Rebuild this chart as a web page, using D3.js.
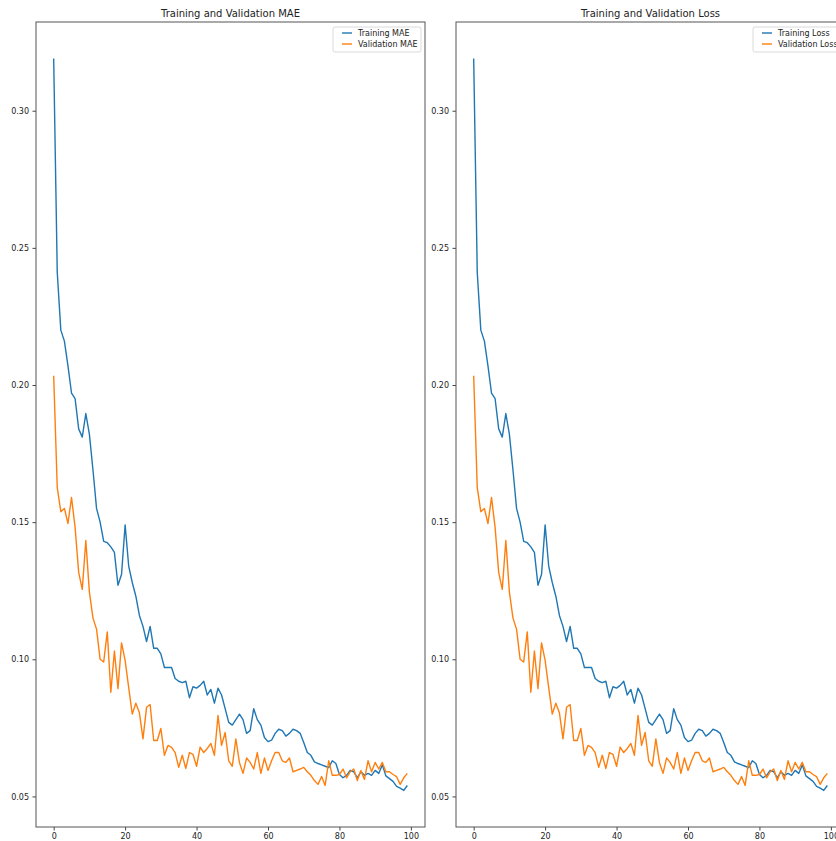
<!DOCTYPE html>
<html>
<head>
<meta charset="utf-8">
<script src="https://cdn.jsdelivr.net/npm/d3@7"></script>
<style>
  body { margin: 0; background: white; }
  svg { display: block; font-family: "DejaVu Sans", sans-serif; }
</style>
</head>
<body>
<svg id="fig" width="836" height="841"></svg>
<script>
// epoch-by-epoch values
var epochs = d3.range(0, 100);

var trainingMae = [
  0.319, 0.241, 0.220, 0.216, 0.207, 0.197, 0.195, 0.184, 0.181, 0.1896,
  0.182, 0.169, 0.155, 0.150, 0.143, 0.1425, 0.141, 0.139, 0.127, 0.131,
  0.149, 0.134, 0.128, 0.123, 0.116, 0.112, 0.1065, 0.112, 0.104, 0.104,
  0.102, 0.097, 0.097, 0.097, 0.093, 0.092, 0.0915, 0.092, 0.086, 0.090,
  0.0895, 0.0905, 0.092, 0.087, 0.089, 0.084, 0.0895, 0.087, 0.082, 0.077,
  0.076, 0.078, 0.080, 0.078, 0.073, 0.074, 0.082, 0.078, 0.076, 0.0715,
  0.070, 0.0705, 0.073, 0.0745, 0.074, 0.072, 0.073, 0.0745, 0.074, 0.073,
  0.0697, 0.066, 0.065, 0.0626, 0.062, 0.0615, 0.061, 0.0605, 0.063, 0.062,
  0.058, 0.0568, 0.0577, 0.0595, 0.059, 0.0568, 0.059, 0.0577, 0.0584, 0.0577,
  0.0595, 0.0584, 0.0615, 0.0575, 0.0565, 0.0555, 0.0537, 0.053, 0.0522, 0.054
];

var validationMae = [
  0.2034, 0.1626, 0.1538, 0.155, 0.1495, 0.159, 0.148, 0.1317, 0.1255, 0.1433,
  0.1245, 0.115, 0.111, 0.100, 0.099, 0.110, 0.088, 0.103, 0.0893, 0.106,
  0.0996, 0.0897, 0.080, 0.084, 0.0805, 0.071, 0.0825, 0.0835, 0.0704, 0.0704,
  0.0748, 0.065, 0.0686, 0.0679, 0.066, 0.0606, 0.065, 0.0602, 0.066, 0.0653,
  0.061, 0.068, 0.066, 0.0675, 0.0693, 0.065, 0.0795, 0.0686, 0.0733, 0.063,
  0.061, 0.071, 0.0624, 0.0584, 0.064, 0.0624, 0.060, 0.066, 0.0584, 0.064,
  0.0595, 0.063, 0.066, 0.066, 0.063, 0.0624, 0.064, 0.059, 0.0595, 0.060,
  0.0606, 0.059, 0.0577, 0.0558, 0.0544, 0.0573, 0.054, 0.063, 0.0577, 0.0577,
  0.058, 0.060, 0.0568, 0.059, 0.060, 0.0558, 0.0595, 0.0562, 0.063, 0.059,
  0.0624, 0.060, 0.0624, 0.059, 0.059, 0.058, 0.0572, 0.0544, 0.0568, 0.0584
];

// the loss panel shows the same curves
var trainingLoss = trainingMae.slice();
var validationLoss = validationMae.slice();

var xTicks = [0, 20, 40, 60, 80, 100];
var yTicks = [0.05, 0.10, 0.15, 0.20, 0.25, 0.30];

var blue = "#1f77b4",
  orange = "#ff7f0e";

var svgContainer = d3.select("#fig");

function drawPanel(offsetX, title, train, valid, trainLabel, validLabel) {
  var left = 36 + offsetX,
    right = 425 + offsetX,
    top = 22,
    bottom = 827;

  var all = train.concat(valid);
  var yMin = d3.min(all),
    yMax = d3.max(all),
    pad = (yMax - yMin) * 0.05;

  var xScale = d3.scaleLinear().domain([-4.95, 103.95]).range([left, right]);
  var yScale = d3.scaleLinear().domain([yMin - pad, yMax + pad]).range([bottom, top]);

  var panel = svgContainer.append("g");

  // Y axis
  var yAxis = d3.axisLeft(yScale)
    .tickValues(yTicks)
    .tickFormat(d3.format(".2f"))
    .tickSize(3.5)
    .tickPadding(3.5);
  var yg = panel.append("g")
    .attr("transform", "translate(" + left + ",0)")
    .call(yAxis);
  yg.select(".domain").remove();
  yg.selectAll(".tick line").attr("stroke", "#444");
  yg.selectAll(".tick text")
    .attr("font-size", "8px")
    .attr("font-family", "DejaVu Sans")
    .attr("fill", "#222");

  // X axis
  var xAxis = d3.axisBottom(xScale)
    .tickValues(xTicks)
    .tickSize(3.5)
    .tickPadding(2.5);
  var xg = panel.append("g")
    .attr("transform", "translate(0," + bottom + ")")
    .call(xAxis);
  xg.select(".domain").remove();
  xg.selectAll(".tick line").attr("stroke", "#444");
  xg.selectAll(".tick text")
    .attr("font-size", "8px")
    .attr("font-family", "DejaVu Sans")
    .attr("fill", "#222");

  var line = function (values) {
    return d3.line()
      .x(function (d, i) { return xScale(epochs[i]); })
      .y(function (d) { return yScale(d); })(values);
  };

  panel.append("path")
    .attr("fill", "none")
    .attr("stroke", blue)
    .attr("stroke-width", 1.4)
    .attr("stroke-linejoin", "round")
    .attr("d", line(train));

  panel.append("path")
    .attr("fill", "none")
    .attr("stroke", orange)
    .attr("stroke-width", 1.4)
    .attr("stroke-linejoin", "round")
    .attr("d", line(valid));

  // frame
  panel.append("rect")
    .attr("x", left)
    .attr("y", top)
    .attr("width", right - left)
    .attr("height", bottom - top)
    .attr("fill", "none")
    .attr("stroke", "#555")
    .attr("stroke-width", 1);

  // title
  panel.append("text")
    .attr("x", (left + right) / 2)
    .attr("y", 17)
    .attr("text-anchor", "middle")
    .style("font-size", "10px")
    .attr("fill", "#222")
    .text(title);

  // legend
  var lx = right - 92,
    ly = 27;
  panel.append("rect")
    .attr("x", lx)
    .attr("y", ly)
    .attr("width", 88)
    .attr("height", 25)
    .attr("rx", 2)
    .attr("fill", "white")
    .attr("fill-opacity", 0.8)
    .attr("stroke", "#d0d0d0")
    .attr("stroke-width", 0.8);

  [[trainLabel, blue, 6], [validLabel, orange, 17]].forEach(function (e) {
    panel.append("line")
      .attr("x1", lx + 9)
      .attr("x2", lx + 19)
      .attr("y1", ly + e[2])
      .attr("y2", ly + e[2])
      .attr("stroke", e[1])
      .attr("stroke-width", 1.4);
    panel.append("text")
      .attr("x", lx + 25)
      .attr("y", ly + e[2] + 3)
      .style("font-size", "8px")
      .attr("fill", "#222")
      .text(e[0]);
  });
}

drawPanel(0, "Training and Validation MAE", trainingMae, validationMae,
  "Training MAE", "Validation MAE");
drawPanel(420, "Training and Validation Loss", trainingLoss, validationLoss,
  "Training Loss", "Validation Loss");
</script>
</body>
</html>
